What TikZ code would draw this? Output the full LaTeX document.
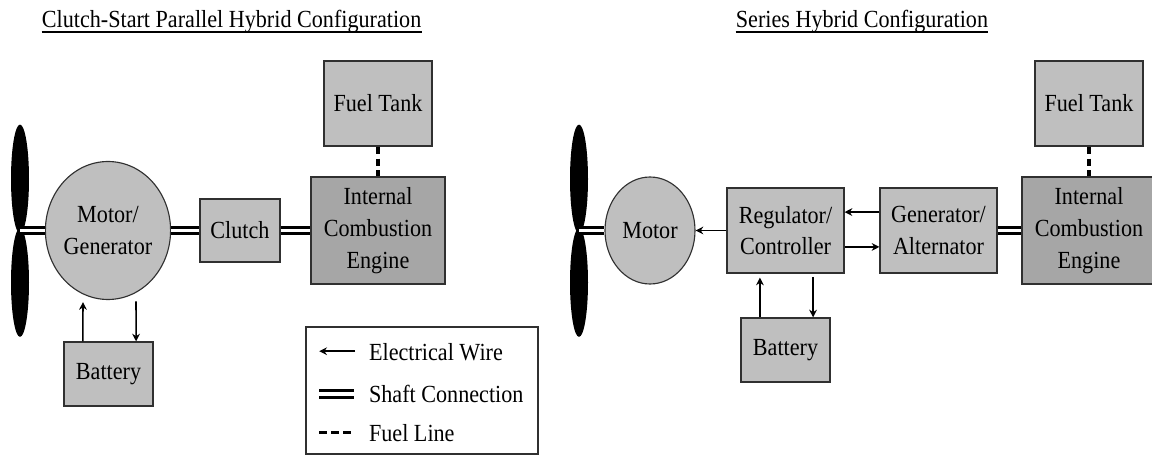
\documentclass[tikz,border=0pt]{standalone}
\usepackage{fontspec}
\setmainfont[FakeStretch=.9]{Liberation Serif}
\definecolor{boxgray}{HTML}{BFBFBF}
\definecolor{enginegray}{HTML}{A6A6A6}
\definecolor{edgegray}{HTML}{303030}
\usetikzlibrary{shapes.geometric,arrows.meta}
\tikzset{
  part/.style={draw=edgegray,line width=.8pt,fill=boxgray,align=center,inner sep=0pt,font=\fontsize{17.5}{22.5}\selectfont},
  engine/.style={part,fill=enginegray,minimum width=3.35cm,minimum height=2.675cm},
  tank/.style={part,minimum width=2.7cm,minimum height=2.125cm},
  cell/.style={part,minimum width=2.225cm,minimum height=1.6cm},
  unit/.style={part,minimum width=2.925cm,minimum height=2.125cm},
  round part/.style={part,ellipse},
  blade/.style={ellipse,fill=black,inner sep=0pt,minimum width=.45cm,minimum height=2.72cm},
  title/.style={anchor=base,inner sep=0pt,font=\fontsize{17.5}{20}\selectfont},
  tag/.style={anchor=west,inner sep=0pt,font=\fontsize{17.5}{20}\selectfont},
  shaft/.style={draw=black,double=white,line width=2.3pt,double distance=2.4pt},
  wire/.style={->,line width=1.1pt},
  fuel/.style={line width=2.3pt,dash pattern=on 5.5pt off 3pt},
  rule/.style={line width=.8pt}
}
\begin{document}
\begin{tikzpicture}[>={Stealth[length=5.5pt,width=5.5pt]}]
\useasboundingbox (0,0) rectangle (28.8,11.4);
% left
\node[title] (titleL) at (5.79,10.7) {Clutch-Start Parallel Hybrid Configuration};
\draw[rule] ([yshift=-.1cm]titleL.base west) -- ([yshift=-.1cm]titleL.base east);
\node[tank] (tankL) at (9.45,8.8125) {Fuel Tank};
\node[engine] (engineL) at (9.45,5.6375) {Internal\\Combustion\\Engine};
\node[part,minimum width=2cm,minimum height=1.575cm] (clutchL) at (6,5.6375) {Clutch};
\node[round part,minimum width=2.9cm,minimum height=3.45cm] (motorL) at (2.7,5.6375) {Motor/\\Generator};
\node[cell] (batteryL) at (2.7125,2.05) {Battery};
\coordinate (hubL) at (.5,5.6375);
\node[blade] (bladeLa) at (.5,6.925) {};
\node[blade] (bladeLb) at (.5,4.3375) {};
\draw[shaft] (hubL) -- (motorL);
\draw[shaft] (motorL) -- (clutchL);
\draw[shaft] (clutchL) -- (engineL);
\draw[fuel] (tankL) -- (engineL);
\draw[wire] ([xshift=-.64cm]batteryL.north) -- ([xshift=-.625cm,yshift=-.05cm]motorL.south);
\draw[wire] ([xshift=.7cm,yshift=-.03cm]motorL.south) -- ([xshift=.69cm]batteryL.north);
% legend
\node[draw=edgegray,line width=.8pt,minimum width=5.8cm,minimum height=3.175cm] (legend) at (10.55,1.6375) {};
\coordinate (wireA) at (8.88,2.62);
\coordinate (wireB) at (7.98,2.62);
\coordinate (shaftA) at (7.98,1.55);
\coordinate (shaftB) at (8.85,1.55);
\coordinate (fuelA) at (7.98,.58);
\coordinate (fuelB) at (8.85,.58);
\draw[wire] (wireA) -- (wireB);
\draw[shaft] (shaftA) -- (shaftB);
\draw[fuel] (fuelA) -- (fuelB);
\node[tag] (tagWire) at (9.22,2.6) {Electrical Wire};
\node[tag] (tagShaft) at (9.22,1.55) {Shaft Connection};
\node[tag] (tagFuel) at (9.22,.57) {Fuel Line};
% right
\node[title] (titleR) at (21.55,10.7) {Series Hybrid Configuration};
\draw[rule] ([yshift=-.1cm]titleR.base west) -- ([yshift=-.1cm]titleR.base east);
\node[tank] (tankR) at (27.225,8.8125) {Fuel Tank};
\node[engine] (engineR) at (27.225,5.6375) {Internal\\Combustion\\Engine};
\node[unit] (generatorR) at (23.4625,5.6375) {Generator/\\Alternator};
\node[unit] (controllerR) at (19.6375,5.6375) {Regulator/\\Controller};
\node[round part,minimum width=2.25cm,minimum height=2.675cm] (motorR) at (16.25,5.6375) {Motor};
\node[cell] (batteryR) at (19.6375,2.65) {Battery};
\coordinate (hubR) at (14.475,5.6375);
\node[blade] (bladeRa) at (14.475,6.925) {};
\node[blade] (bladeRb) at (14.475,4.3375) {};
\draw[shaft] (hubR) -- (motorR);
\draw[shaft] (generatorR) -- (engineR);
\draw[fuel] (tankR) -- (engineR);
\draw[wire] (controllerR) -- (motorR);
\draw[wire] ([yshift=.46cm]generatorR.west) -- ([yshift=.46cm]controllerR.east);
\draw[wire] ([yshift=-.41cm]controllerR.east) -- ([yshift=-.41cm]generatorR.west);
\draw[wire] ([xshift=-.64cm]batteryR.north) -- ([xshift=-.64cm,yshift=-.1cm]controllerR.south);
\draw[wire] ([xshift=.69cm,yshift=-.08cm]controllerR.south) -- ([xshift=.69cm]batteryR.north);
\end{tikzpicture}
\end{document}
